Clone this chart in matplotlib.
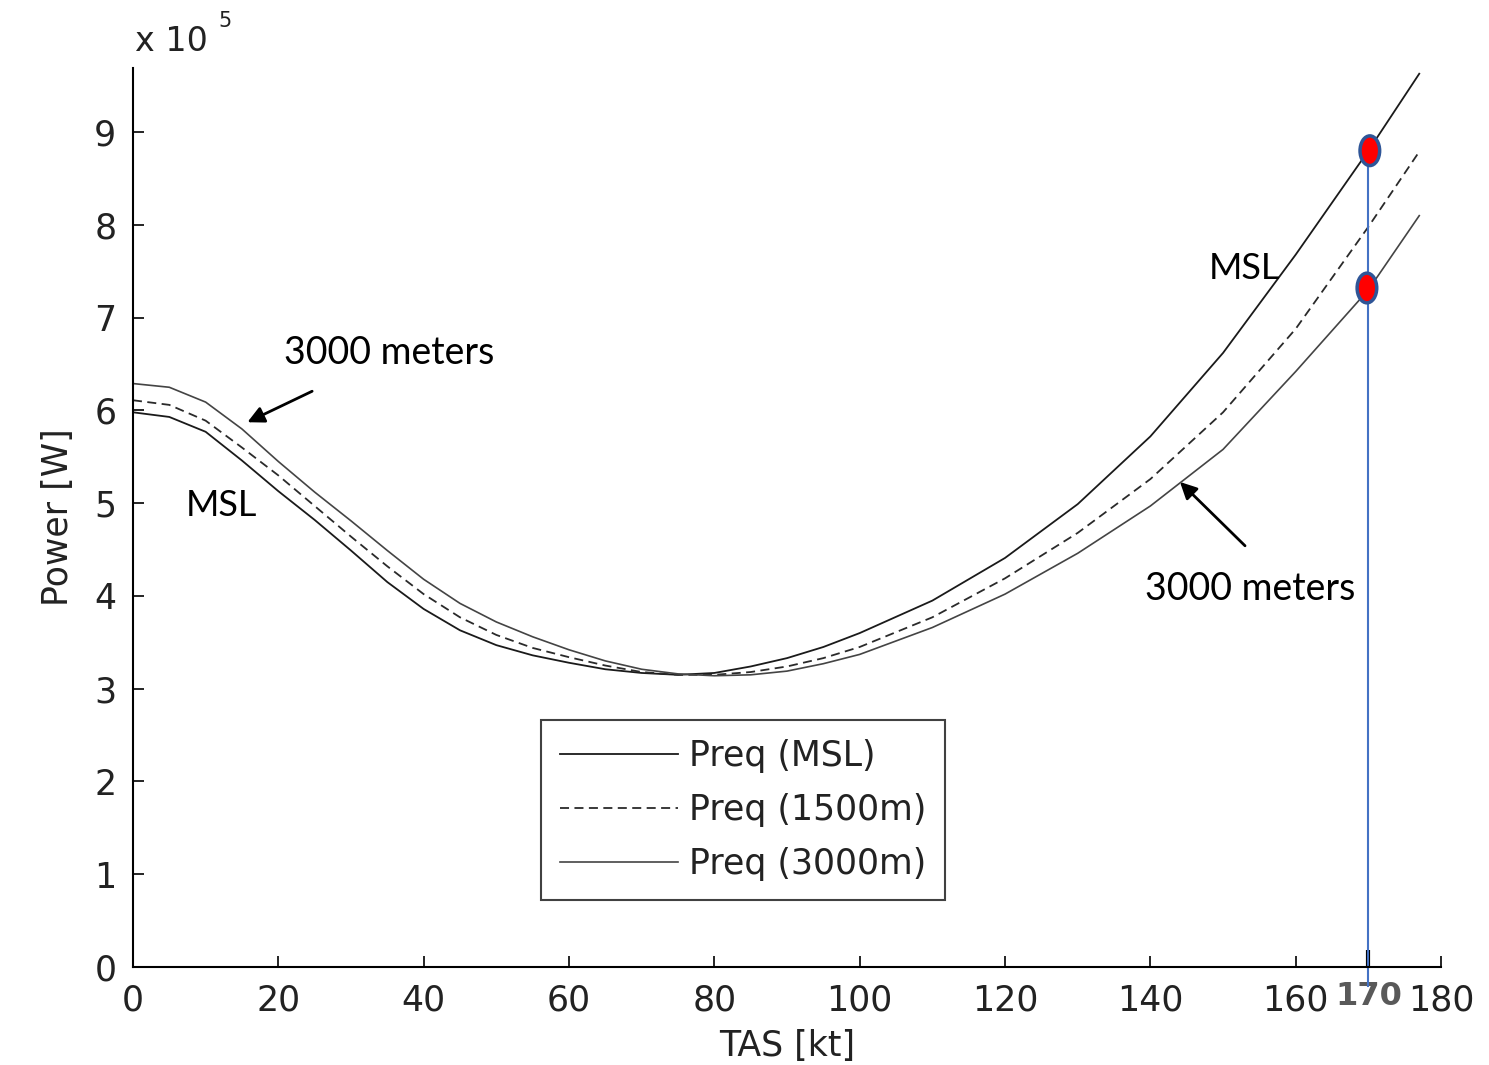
import matplotlib
matplotlib.use("Agg")
import matplotlib.pyplot as plt
from matplotlib.patches import Ellipse
import numpy as np

# TAS [kt] and power required [x 1e5 W]
tas = [0, 5, 10, 15, 20, 25, 30, 35, 40, 45, 50, 55, 60, 65, 70, 75, 80,
       85, 90, 95, 100, 110, 120, 130, 140, 150, 160, 170, 177]
p_msl = [5.98, 5.93, 5.77, 5.46, 5.13, 4.82, 4.49, 4.15, 3.86, 3.63, 3.47, 3.36,
         3.28, 3.21, 3.17, 3.15, 3.17, 3.24, 3.33, 3.45, 3.60, 3.95, 4.41, 4.99,
         5.72, 6.62, 7.68, 8.80, 9.63]
p_1500 = [6.11, 6.06, 5.89, 5.60, 5.30, 4.97, 4.64, 4.32, 4.02, 3.77, 3.58, 3.44,
          3.34, 3.25, 3.18, 3.15, 3.15, 3.18, 3.24, 3.33, 3.45, 3.77, 4.19, 4.68,
          5.26, 5.98, 6.88, 7.98, 8.79]
p_3000 = [6.29, 6.25, 6.09, 5.80, 5.45, 5.12, 4.81, 4.49, 4.18, 3.92, 3.72, 3.56,
          3.42, 3.30, 3.21, 3.16, 3.14, 3.15, 3.19, 3.27, 3.37, 3.66, 4.02, 4.46,
          4.97, 5.58, 6.42, 7.30, 8.10]
legend_labels = ['Preq (MSL)', 'Preq (1500m)', 'Preq (3000m)']

xticks = [0, 20, 40, 60, 80, 100, 120, 140, 160, 180]
yticks = [0, 1, 2, 3, 4, 5, 6, 7, 8, 9]

mark_tas = 170
dot_x = [170.2, 169.8]
dot_y = [8.80, 7.32]

axis_font = 'DejaVu Sans'
note_font = 'Lato'
text_col = '#222222'

fig = plt.figure(figsize=(14.89, 10.65), dpi=100)
ax = fig.add_axes([0.0893, 0.092, 0.8785, 0.844])

ax.plot(tas, p_msl, color='#1a1a1a', lw=1.3, label=legend_labels[0])
ax.plot(tas, p_1500, color='#2a2a2a', lw=1.3, dashes=(5, 3), label=legend_labels[1])
ax.plot(tas, p_3000, color='#444444', lw=1.2, label=legend_labels[2])

ax.set_xlim(0, 180)
ax.set_ylim(0, 9.69)
ax.spines['top'].set_visible(False)
ax.spines['right'].set_visible(False)
ax.spines['left'].set_linewidth(1.5)
ax.spines['bottom'].set_linewidth(1.5)

ax.set_xticks(xticks)
ax.set_yticks(yticks)
ax.set_xticklabels([str(t) for t in xticks], family=axis_font, fontsize=25, color=text_col)
ax.set_yticklabels([str(t) for t in yticks], family=axis_font, fontsize=25, color=text_col)
ax.tick_params(which='major', direction='in', length=8, width=1.2, pad=12)

# extra 170 tick
ax.set_xticks([mark_tas], minor=True)
ax.tick_params(which='minor', direction='in', length=12, width=3, pad=10,
               labelsize=23, labelcolor='#595959')
ax.set_xticklabels([str(mark_tas)], minor=True)
for lab in ax.get_xticklabels(minor=True):
    lab.set_fontweight('bold')
    lab.set_family('DejaVu Sans')
    lab.set_fontsize(23)

ax.set_xlabel('TAS [kt]', family=axis_font, fontsize=25, color=text_col, labelpad=8)
ax.set_ylabel('Power [W]', family=axis_font, fontsize=25, color=text_col, labelpad=14)

fig.text(0.0907, 0.961, 'x 10', family=axis_font, fontsize=24, color=text_col, va='center')
fig.text(0.1465, 0.980, '5', family=axis_font, fontsize=15, color=text_col, va='center')

leg = ax.legend(loc='upper left', bbox_to_anchor=(0.312, 0.2748), borderaxespad=0,
                prop={'family': axis_font, 'size': 25}, frameon=True, fancybox=False,
                edgecolor='#111111', handlelength=3.4, handletextpad=0.3,
                labelspacing=0.58, borderpad=0.55)
leg.get_frame().set_linewidth(1.5)
for t in leg.get_texts():
    t.set_color(text_col)

# annotations
ax.text(12.2, 4.97, 'MSL', family=note_font, fontsize=26, ha='center', va='center')
ax.text(152.9, 7.53, 'MSL', family=note_font, fontsize=26, ha='center', va='center')
ax.annotate('', xy=(15.4, 5.86), xytext=(25.0, 6.22),
            arrowprops=dict(arrowstyle='-|>', color='black', lw=2, mutation_scale=25))
ax.text(35.2, 6.62, '3000 meters', family=note_font, fontsize=27, ha='center', va='center')
ax.annotate('', xy=(143.8, 5.25), xytext=(153.3, 4.52),
            arrowprops=dict(arrowstyle='-|>', color='black', lw=2, mutation_scale=25))
ax.text(153.7, 4.08, '3000 meters', family=note_font, fontsize=27, ha='center', va='center')

# vertical marker line and dots
ax.plot([mark_tas, mark_tas], [-0.2, dot_y[0]], color='#4472C4', lw=1.5, clip_on=False)
for x, y in zip(dot_x, dot_y):
    ax.add_patch(Ellipse((x, y), width=2.7, height=0.32, facecolor='#FF0000',
                         edgecolor='#2F5597', lw=2.5, zorder=5))

fig.savefig('out.png', dpi=100)
